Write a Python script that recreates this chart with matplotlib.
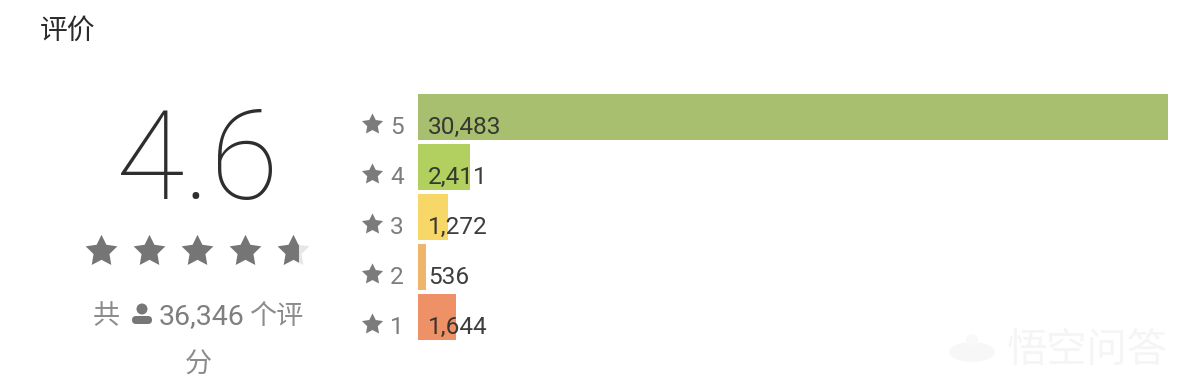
import matplotlib
matplotlib.use('Agg')
import matplotlib.pyplot as plt
from matplotlib.patches import Circle, Ellipse, FancyBboxPatch, Rectangle
from matplotlib.path import Path

title = '评价'
score = '4.6'
star_ratings = ['5', '4', '3', '2', '1']
bar_lengths = [30483, 2110, 1220, 320, 1540]
count_labels = ['30,483', '2,411', '1,272', '536', '1,644']
bar_colors = ['#a7bf6e', '#b1d05f', '#f6d768', '#efb56b', '#ee9166']
total_label = '36,346'
total_before = '共'
total_after = '个评'
total_wrap = '分'
watermark = '悟空问答'

W, H = 1188, 388
cjk = ['Noto Sans CJK SC', 'DejaVu Sans']
nums = ['Roboto', 'DejaVu Sans']
star = Path.unit_regular_star(5, innerCircle=0.5)

fig = plt.figure(figsize=(W / 100, H / 100), dpi=100, facecolor='white')

# overlay in pixel coordinates for the text around the bars
pg = fig.add_axes([0, 0, 1, 1])
pg.set_xlim(0, W)
pg.set_ylim(H, 0)
pg.axis('off')

ax = fig.add_axes([418 / W, (H - 340) / H, 750 / W, 246 / H])
ax.set_xlim(0, max(bar_lengths))
ax.set_ylim(4.46, -0.46)
ax.axis('off')
ax.barh(range(len(bar_lengths)), bar_lengths, height=0.92, color=bar_colors)

for i, label in enumerate(count_labels):
    ax.annotate(label, xy=(0, i), xytext=(7.2, -7.7), textcoords='offset points',
                fontsize=17.6, family=nums, color='#2c2c2c', alpha=0.92,
                ha='left', va='center', annotation_clip=False)

for i, rating in enumerate(star_ratings):
    y = 125 + 50 * i
    pg.plot([372], [y - 1], marker=star, ms=16, color='#7b7b7b', mew=0)
    pg.text(397, y + 2, rating, fontsize=17.6, family=nums, color='#7d7d7d',
            ha='center', va='center')

pg.text(40, 31, title, fontsize=20, family=cjk, color='#2b2b2b', ha='left', va='center')

pg.text(198, 165, score, fontsize=90, family=nums, fontweight=100, color='#2e2e2e',
        ha='center', va='center')

# four full stars, the last one only part filled
for x in [101, 149, 197, 245]:
    pg.plot([x], [251], marker=star, ms=24, color='#757575', mew=0)
pg.plot([293], [251], marker=star, ms=24, color='#e6e6e6', mew=0)
half, = pg.plot([293], [251], marker=star, ms=24, color='#757575', mew=0)
half.set_clip_path(Rectangle((278, 230), 20, 40, transform=pg.transData))

pg.text(106, 317, total_before, fontsize=19.5, family=cjk, color='#8c8c8c',
        ha='center', va='center', fontweight='light')
pg.add_patch(Circle((142, 309), 5.5, color='#777777', lw=0))
pg.add_patch(FancyBboxPatch((132, 316), 20, 8, boxstyle='round,pad=0,rounding_size=4',
                            fc='#777777', ec='none'))
pg.text(159, 317, total_label, fontsize=20.5, family=nums, color='#7f7f7f',
        ha='left', va='center')
pg.text(303, 317, total_after, fontsize=19.5, family=cjk, color='#8c8c8c',
        ha='right', va='center', fontweight='light')
pg.text(198, 365, total_wrap, fontsize=19.5, family=cjk, color='#8c8c8c',
        ha='center', va='center', fontweight='light')

# faint watermark, bottom right
pg.text(1087, 350, watermark, fontsize=29, family=cjk, color='#f5f5f5',
        ha='center', va='center', fontweight='light')
pg.add_patch(Ellipse((972, 352), 46, 20, fc='#f7f7f7', ec='none'))
pg.add_patch(Ellipse((972, 340), 12, 12, fc='#f9f9f9', ec='none'))

fig.savefig('out.png', dpi=100, facecolor='white')
